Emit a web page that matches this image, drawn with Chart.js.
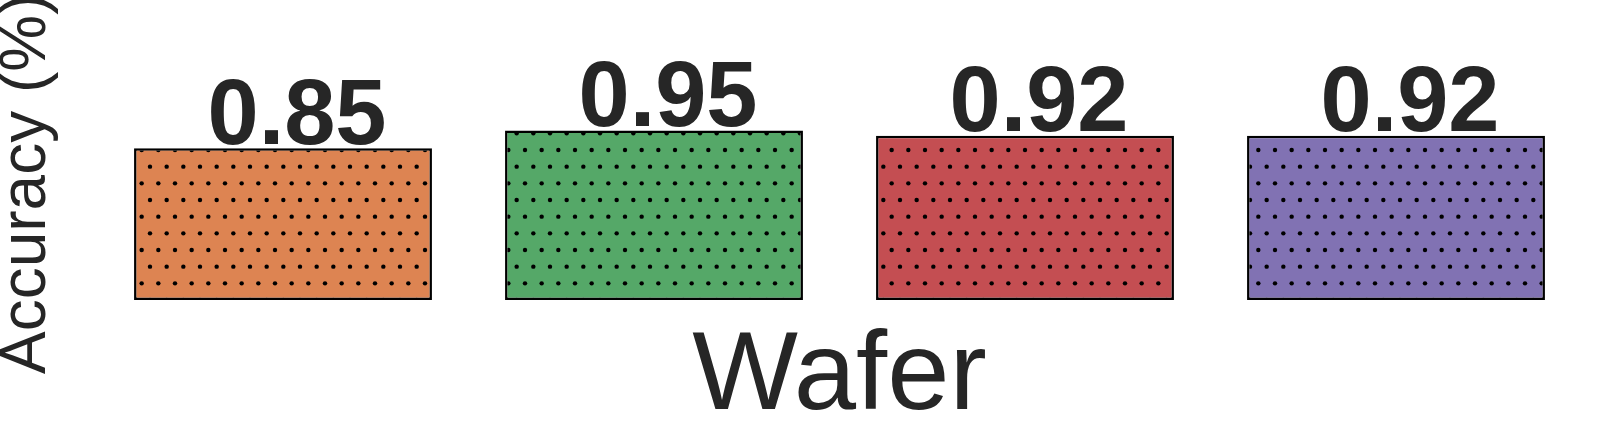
<!DOCTYPE html>
<html>
<head>
<meta charset="utf-8">
<script src="https://cdn.jsdelivr.net/npm/chart.js@4"></script>
<style>
  html, body { margin: 0; padding: 0; background: #fff; }
  canvas { display: block; }
</style>
</head>
<body>
<canvas id="accChart" width="1614" height="431"></canvas>
<script>
const categories = ['Model 1', 'Model 2', 'Model 3', 'Model 4'];
const accuracy = [0.85, 0.95, 0.92, 0.92];
const barColors = ['#DD8452', '#55A868', '#C44E52', '#8172B3'];
const xTitle = 'Wafer';
const yTitle = 'Accuracy (%)';

// dotted hatch, tile is 100px with 6 dots per row
function dotPattern(color) {
  const tile = document.createElement('canvas');
  tile.width = 100;
  tile.height = 100;
  const c = tile.getContext('2d');
  c.fillStyle = color;
  c.fillRect(0, 0, 100, 100);
  c.fillStyle = '#000';
  const step = 100 / 6;
  for (let j = 0; j <= 6; j++) {
    const y = j * step;
    const off = (j % 2) ? step / 2 : 0;
    for (let i = -1; i <= 6; i++) {
      const x = off + i * step;
      c.beginPath();
      c.arc(x, y, 2.2, 0, Math.PI * 2);
      c.fill();
    }
  }
  return c.createPattern(tile, 'repeat');
}

const textPlugin = {
  id: 'texts',
  afterDatasetsDraw(chart) {
    const ctx = chart.ctx;
    const area = chart.chartArea;
    ctx.save();
    ctx.fillStyle = '#262626';

    // value labels above bars (sit a bit right of bar centre, like the original)
    ctx.font = 'bold 92px "Liberation Sans", Arial, sans-serif';
    ctx.textAlign = 'center';
    ctx.textBaseline = 'alphabetic';
    chart.getDatasetMeta(0).data.forEach((bar, i) => {
      ctx.fillText(accuracy[i].toFixed(2), bar.x + 14, bar.y - 4.5);
    });

    // x title
    ctx.font = '112px "Liberation Sans", Arial, sans-serif';
    ctx.fillText(xTitle, (area.left + area.right) / 2, 409);

    // y title, rotated
    ctx.translate(45, 374);
    ctx.rotate(-Math.PI / 2);
    ctx.font = '64px "Liberation Sans", Arial, sans-serif';
    ctx.textAlign = 'left';
    ctx.fillText(yTitle, 0, 0);
    ctx.restore();
  }
};

new Chart(document.getElementById('accChart'), {
  type: 'bar',
  data: {
    labels: categories,
    datasets: [{
      data: accuracy,
      backgroundColor: barColors.map(dotPattern),
      borderColor: '#000',
      borderWidth: 2.5,
      borderSkipped: false,
      barPercentage: 0.803,
      categoryPercentage: 1
    }]
  },
  options: {
    responsive: false,
    animation: false,
    layout: {
      padding: { left: 97.5, right: 32.5, top: 121.5, bottom: 131 }
    },
    plugins: {
      legend: { display: false },
      tooltip: { enabled: false }
    },
    scales: {
      x: { display: false },
      y: { display: false, min: 0, max: 1 }
    }
  },
  plugins: [textPlugin]
});
</script>
</body>
</html>
